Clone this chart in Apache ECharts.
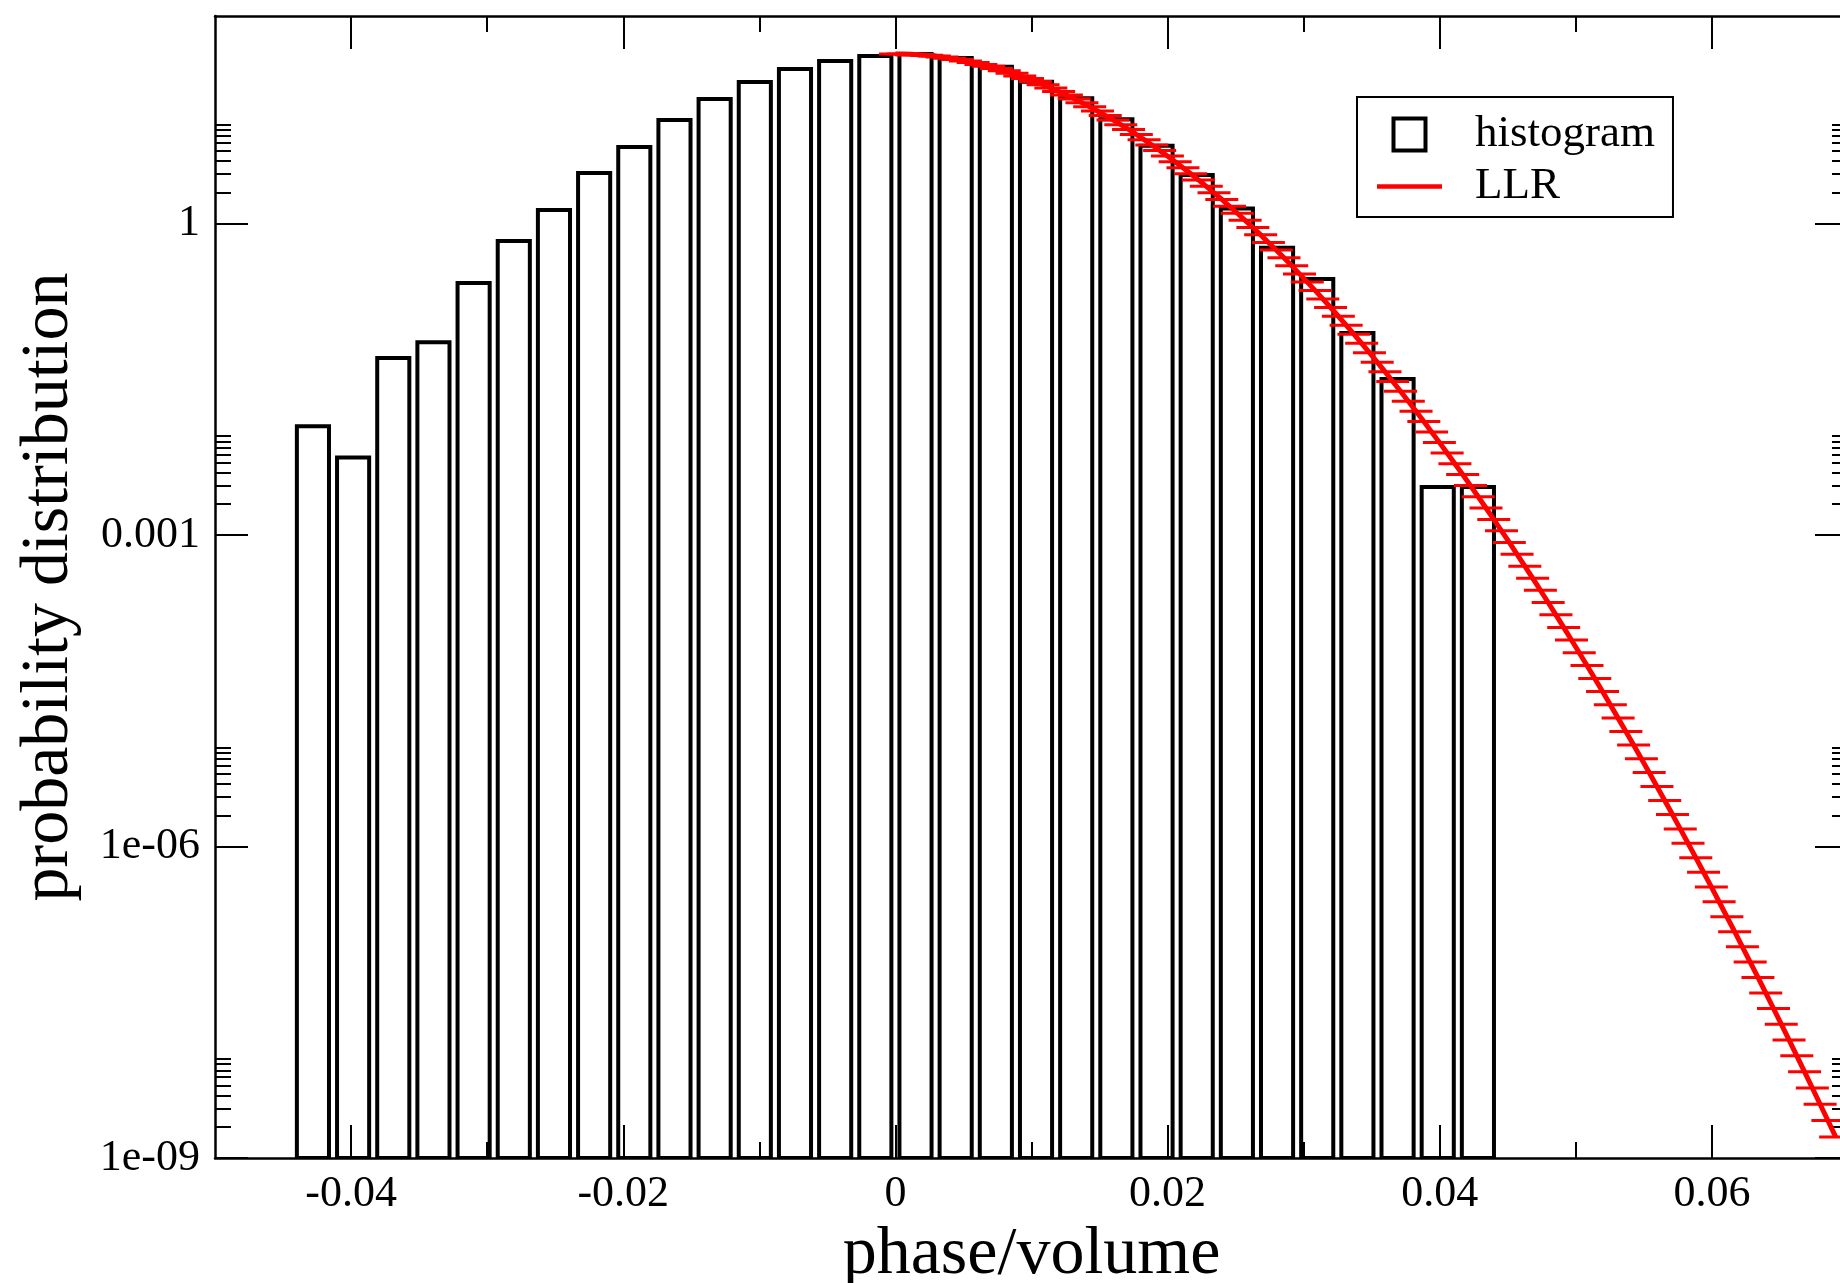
<!DOCTYPE html>
<html>
<head>
<meta charset="utf-8">
<script src="https://cdn.jsdelivr.net/npm/echarts@6/dist/echarts.min.js"></script>
<style>
html,body{margin:0;padding:0;background:#fff;}
#chart{width:1840px;height:1283px;}
</style>
</head>
<body>
<div id="chart"></div>
<script>
// ---------- data ----------
const xMajorTicks = [-0.04, -0.02, 0, 0.02, 0.04, 0.06];
const xTickLabels = ['-0.04', '-0.02', '0', '0.02', '0.04', '0.06'];
const xMinorTicks = [-0.03, -0.01, 0.01, 0.03, 0.05];

const yMajorTicks = [1e-9, 1e-6, 1e-3, 1];
const yTickLabels = ['1e-09', '1e-06', '0.001', '1'];
const yMinorTicks = [
  2e-9, 3e-9, 4e-9, 5e-9, 6e-9, 7e-9, 8e-9, 9e-9,
  2e-6, 3e-6, 4e-6, 5e-6, 6e-6, 7e-6, 8e-6, 9e-6,
  0.002, 0.003, 0.004, 0.005, 0.006, 0.007, 0.008, 0.009,
  2, 3, 4, 5, 6, 7, 8, 9
];

// histogram bin centres and heights
const histX = [
  -0.042804, -0.039852, -0.036900, -0.033948, -0.030996, -0.028044, -0.025092, -0.022140, -0.019188, -0.016236,
  -0.013284, -0.010332, -0.007380, -0.004428, -0.001476, 0.001476, 0.004428, 0.007380, 0.010332, 0.013284,
  0.016236, 0.019188, 0.022140, 0.025092, 0.028044, 0.030996, 0.033948, 0.036900, 0.039852, 0.042804
];
const histY = [
  0.0112, 0.0056, 0.0507, 0.072, 0.268, 0.68, 1.35, 3.07, 5.47, 9.95,
  15.9, 23.1, 30.9, 36.8, 41.2, 43.0, 39.4, 32.5, 23.3, 16.1,
  10.1, 5.63, 2.94, 1.40, 0.586, 0.293, 0.0883, 0.0318, 0.0029, 0.0029
];

// LLR curve: x positions and log10 of the density
const llrX = [
  0.000000, 0.000573, 0.001144, 0.001715, 0.002286, 0.002857, 0.003428, 0.003999,
  0.004570, 0.005141, 0.005712, 0.006283, 0.006854, 0.007425, 0.007996, 0.008567, 0.009138, 0.009709,
  0.010280, 0.010851, 0.011422, 0.011993, 0.012564, 0.013135, 0.013706, 0.014277, 0.014848, 0.015419,
  0.015990, 0.016561, 0.017132, 0.017703, 0.018274, 0.018845, 0.019416, 0.019987, 0.020558, 0.021129,
  0.021700, 0.022271, 0.022842, 0.023413, 0.023984, 0.024555, 0.025126, 0.025697, 0.026268, 0.026839,
  0.027410, 0.027981, 0.028552, 0.029123, 0.029694, 0.030265, 0.030836, 0.031407, 0.031978, 0.032549,
  0.033120, 0.033691, 0.034262, 0.034833, 0.035404, 0.035975, 0.036546, 0.037117, 0.037688, 0.038259,
  0.038830, 0.039401, 0.039972, 0.040543, 0.041114, 0.041685, 0.042256, 0.042827, 0.043398, 0.043969,
  0.044540, 0.045111, 0.045682, 0.046253, 0.046824, 0.047395, 0.047966, 0.048537, 0.049108, 0.049679,
  0.050250, 0.050821, 0.051392, 0.051963, 0.052534, 0.053105, 0.053676, 0.054247, 0.054818, 0.055389,
  0.055960, 0.056531, 0.057102, 0.057673, 0.058244, 0.058815, 0.059386, 0.059957, 0.060528, 0.061099,
  0.061670, 0.062241, 0.062812, 0.063383, 0.063954, 0.064525, 0.065096, 0.065667, 0.066238, 0.066809,
  0.067380, 0.067951, 0.068522, 0.069093
];
const llrLog10 = [
  1.635, 1.634, 1.632, 1.627, 1.622, 1.614, 1.605, 1.594,
  1.581, 1.567, 1.552, 1.534, 1.515, 1.495, 1.473, 1.449, 1.423, 1.397,
  1.368, 1.338, 1.306, 1.273, 1.239, 1.202, 1.165, 1.125, 1.085, 1.042,
  0.999, 0.953, 0.907, 0.859, 0.809, 0.758, 0.705, 0.651, 0.596, 0.539,
  0.480, 0.421, 0.359, 0.297, 0.233, 0.167, 0.100, 0.032, -0.037, -0.108,
  -0.181, -0.254, -0.329, -0.406, -0.484, -0.563, -0.643, -0.725, -0.808, -0.892,
  -0.978, -1.065, -1.153, -1.243, -1.334, -1.426, -1.520, -1.614, -1.710, -1.808,
  -1.906, -2.006, -2.107, -2.209, -2.313, -2.417, -2.523, -2.631, -2.739, -2.849,
  -2.959, -3.071, -3.185, -3.299, -3.415, -3.531, -3.649, -3.768, -3.889, -4.010,
  -4.133, -4.256, -4.381, -4.507, -4.635, -4.763, -4.892, -5.023, -5.154, -5.287,
  -5.421, -5.556, -5.692, -5.830, -5.968, -6.107, -6.248, -6.389, -6.532, -6.676,
  -6.820, -6.966, -7.113, -7.261, -7.410, -7.560, -7.711, -7.863, -8.016, -8.170,
  -8.326, -8.482, -8.639, -8.797
];

// ---------- styling / layout ----------
const FONT = '"Liberation Serif", "Times New Roman", serif';
const X_MIN = -0.05, X_MAX = 0.07, Y_MIN = 1e-9, Y_MAX = 100;
const BAR_HALF = 0.00118;      // half of a drawn bar, in x units
const CAP_HALF_PX = 16.5;      // half width of error-bar caps, pixels
const GRID = { left: 215, right: -8, top: 16, bottom: 125, containLabel: false, outerBoundsMode: 'none' };

const histData = histX.map((x, i) => [x, histY[i]]);
const llrData = llrX.map((x, i) => [x, Math.pow(10, llrLog10[i])]);

function labelFor(list, labels, v, isLog) {
  for (let i = 0; i < list.length; i++) {
    const d = isLog ? Math.abs(Math.log10(v / list[i])) : Math.abs(v - list[i]);
    if (d < 1e-6) return labels[i];
  }
  return '';
}

function xAxisDef(gridIndex, position, ticks, len, main) {
  return {
    type: 'value', gridIndex, position, min: X_MIN, max: X_MAX,
    axisLine: { show: main, onZero: false, lineStyle: { color: '#000', width: 2.5 } },
    axisTick: { show: true, inside: true, length: len, customValues: ticks,
                lineStyle: { color: '#000', width: 2 } },
    axisLabel: { show: false },
    splitLine: { show: false }
  };
}
function yAxisDef(gridIndex, position, ticks, len, main) {
  return {
    type: 'log', logBase: 10, gridIndex, position, min: Y_MIN, max: Y_MAX,
    axisLine: { show: main, onZero: false, lineStyle: { color: '#000', width: 2.5 } },
    axisTick: { show: true, inside: true, length: len, customValues: ticks,
                lineStyle: { color: '#000', width: 2 } },
    axisLabel: { show: false },
    splitLine: { show: false },
    minorTick: { show: false }
  };
}

const xBottom = xAxisDef(0, 'bottom', xMajorTicks, 33, true);
xBottom.axisLabel = {
  show: true, customValues: xMajorTicks, margin: 14,
  formatter: v => labelFor(xMajorTicks, xTickLabels, v, false),
  fontFamily: FONT, fontSize: 44, color: '#000'
};
xBottom.name = 'phase/volume';
xBottom.nameLocation = 'middle';
xBottom.nameGap = 52;
xBottom.nameTextStyle = { fontFamily: FONT, fontSize: 68, color: '#000' };

const yLeft = yAxisDef(0, 'left', yMajorTicks, 33, true);
yLeft.axisLabel = {
  show: true, customValues: yMajorTicks, margin: 15,
  formatter: v => labelFor(yMajorTicks, yTickLabels, v, true),
  fontFamily: FONT, fontSize: 44, color: '#000'
};
yLeft.name = 'probability distribution';
yLeft.nameLocation = 'middle';
yLeft.nameRotate = 90;
yLeft.nameGap = 132;
yLeft.nameTextStyle = { fontFamily: FONT, fontSize: 68, color: '#000' };

const option = {
  backgroundColor: '#fff',
  animation: false,
  grid: [
    Object.assign({}, GRID),
    Object.assign({}, GRID)
  ],
  xAxis: [
    xBottom,
    xAxisDef(0, 'top', xMajorTicks, 33, true),
    xAxisDef(1, 'bottom', xMinorTicks, 16, false),
    xAxisDef(1, 'top', xMinorTicks, 16, false)
  ],
  yAxis: [
    yLeft,
    yAxisDef(0, 'right', yMajorTicks, 33, true),
    yAxisDef(1, 'left', yMinorTicks, 16, false),
    yAxisDef(1, 'right', yMinorTicks, 16, false)
  ],
  legend: {
    orient: 'vertical',
    left: 1357, top: 97,
    padding: [15, 18, 8, 20],
    itemWidth: 65, itemHeight: 36, itemGap: 7,
    borderColor: '#000', borderWidth: 2,
    selectedMode: false,
    textStyle: { fontFamily: FONT, fontSize: 45, color: '#000', lineHeight: 45, padding: [0, 0, 0, 28] },
    data: [
      { name: 'histogram', icon: 'path://M0,0H36V36H0Z M4,4V32H32V4Z', itemStyle: { color: '#000', borderWidth: 0 } },
      { name: 'LLR', icon: 'path://M0,0H65V4.5H0Z', itemStyle: { color: '#ff0000', borderWidth: 0 } }
    ]
  },
  series: [
    {
      name: 'histogram',
      type: 'custom',
      xAxisIndex: 0, yAxisIndex: 0,
      clip: true,
      itemStyle: { color: '#000' },
      data: histData,
      z: 2,
      renderItem: function (params, api) {
        const x = api.value(0), y = api.value(1);
        const p0 = api.coord([x - BAR_HALF, y]);
        const p1 = api.coord([x + BAR_HALF, Y_MIN]);
        return {
          type: 'rect',
          shape: { x: p0[0], y: p0[1], width: p1[0] - p0[0], height: p1[1] - p0[1] },
          style: { fill: 'none', stroke: '#000', lineWidth: 4 }
        };
      }
    },
    {
      name: 'LLR',
      type: 'line',
      xAxisIndex: 0, yAxisIndex: 0,
      data: llrData,
      showSymbol: false,
      symbol: 'none',
      itemStyle: { color: '#ff0000' },
      lineStyle: { color: '#ff0000', width: 5 },
      clip: true,
      z: 4
    },
    {
      name: 'LLR caps',
      type: 'custom',
      xAxisIndex: 0, yAxisIndex: 0,
      data: llrData,
      clip: true,
      z: 5,
      renderItem: function (params, api) {
        const p = api.coord([api.value(0), api.value(1)]);
        return {
          type: 'line',
          shape: { x1: p[0] - CAP_HALF_PX, y1: p[1], x2: p[0] + CAP_HALF_PX, y2: p[1] },
          style: { stroke: '#ff0000', lineWidth: 3 }
        };
      }
    }
  ]
};

const chart = echarts.init(document.getElementById('chart'), null, { renderer: 'canvas' });
chart.setOption(option);
</script>
</body>
</html>
